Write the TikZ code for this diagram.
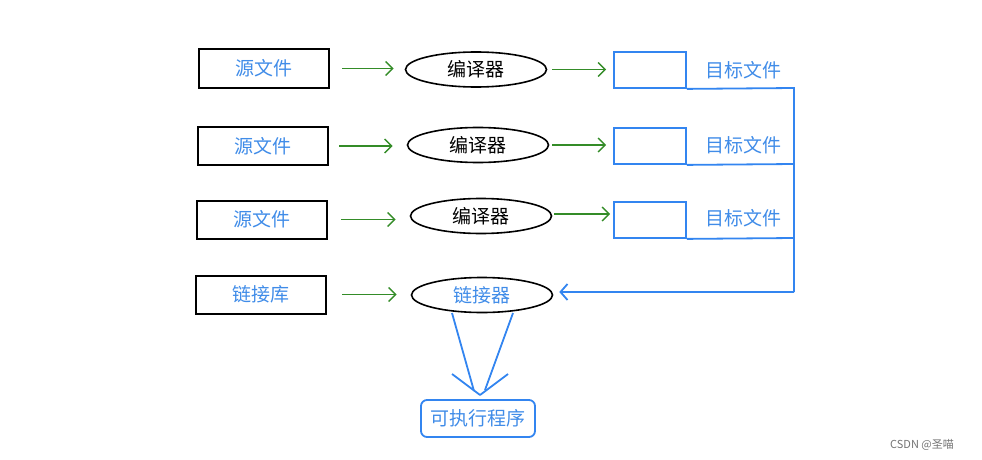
\documentclass[tikz,border=0pt]{standalone}
\usepackage{fontspec}
\setmainfont{Noto Sans CJK SC}
\usetikzlibrary{shapes.geometric,arrows.meta}
\definecolor{bblue}{RGB}{51,133,240}
\definecolor{tblue}{RGB}{64,140,232}
\definecolor{ggreen}{RGB}{52,140,40}
\tikzset{
  srcbox/.style={draw=black,line width=2pt,minimum width=130pt,minimum height=38pt,inner sep=0pt,text=tblue,font=\fontsize{19}{21}\selectfont},
  tgtbox/.style={draw=bblue,line width=1.8pt,minimum width=72pt,minimum height=36pt,inner sep=0pt},
  procell/.style={ellipse,draw=black,line width=1.6pt,minimum width=141pt,minimum height=35pt,inner sep=0pt,font=\fontsize{19}{21}\selectfont},
  tlabel/.style={text=tblue,font=\fontsize{19}{21}\selectfont},
  garrow/.style={draw=ggreen,line width=1.4pt,-{Straight Barb[length=7pt,width=14pt,line width=1.4pt]}},
  bline/.style={draw=bblue,line width=1.8pt},
  barrow/.style={bline,-{Straight Barb[length=7pt,width=16pt,line width=1.8pt]}},
  exebox/.style={draw=bblue,line width=1.8pt,rounded corners=6pt,minimum width=114pt,minimum height=37pt,inner sep=0pt,text=tblue,font=\fontsize{19}{21}\selectfont},
}
\begin{document}
\begin{tikzpicture}[x=1pt,y=-1pt]
\useasboundingbox (0,0) rectangle (982,460);
% source boxes
\node[srcbox] (s1) at (264,68.5) {源文件};
\node[srcbox] (s2) at (263,146) {源文件};
\node[srcbox] (s3) at (262,219.5) {源文件};
\node[srcbox] (s4) at (261,294.5) {链接库};
% ellipses
\node[procell] (e1) at (476,69.5) {编译器};
\node[procell] (e2) at (478,145) {编译器};
\node[procell] (e3) at (481,216) {编译器};
\node[procell,text=tblue] (lk) at (482,295) {链接器};
% target boxes
\node[tgtbox] (t1) at (650,70) {};
\node[tgtbox] (t2) at (650,146) {};
\node[tgtbox] (t3) at (650,220) {};
\node[tlabel] (l1) at (743,70) {目标文件};
\node[tlabel] (l2) at (743,145) {目标文件};
\node[tlabel] (l3) at (743,218) {目标文件};
% exe
\node[exebox] (exe) at (478,418.5) {可执行程序};
% green arrows
\draw[garrow,shorten <=12pt,shorten >=11pt] (s1.east) -- (s1.east -| e1.west);
\draw[garrow,shorten <=10pt,shorten >=14pt] (s2.east) -- (s2.east -| e2.west);
\draw[garrow,shorten <=13pt,shorten >=14pt] (s3.east) -- (s3.east -| e3.west);
\draw[garrow,shorten <=15pt,shorten >=14pt] (s4.east) -- (s4.east -| lk.west);
\draw[garrow,shorten <=5pt,shorten >=7pt] (e1.east) -- (e1.east -| t1.west);
\draw[garrow,shorten <=3pt,shorten >=7pt] (e2.east) -- (e2.east -| t2.west);
\draw[garrow,shorten <=2pt,shorten >=3pt] ([yshift=2pt]e3.east) -- ([yshift=2pt]e3.east -| t3.west);
% bus
\coordinate (b1) at (794,88);
\coordinate (b2) at (794,164);
\coordinate (b3) at (794,238);
\coordinate (bb) at (794,292);
\draw[bline] (t1.south east) -- (b1) -- (bb);
\draw[bline] (t2.south east) -- (b2);
\draw[bline] (t3.south east) -- (b3);
\draw[barrow] (bb) -- ([xshift=6pt]lk.east |- bb);
% linker to exe
\coordinate (la) at (452,313);
\coordinate (lb) at (513,313);
\coordinate (lae) at (474,391);
\coordinate (lbe) at (485,390);
\coordinate (tip) at (480,395);
\coordinate (hl) at (452,374);
\coordinate (hr) at (508,374);
\draw[bline] (la) -- (lae);
\draw[bline] (lb) -- (lbe);
\draw[bline,line join=round] (hl) -- (tip) -- (hr);
% watermark
\node[text=black!55,font=\fontsize{11}{12}\selectfont] (wm) at (922,445) {CSDN @圣喵};
\end{tikzpicture}
\end{document}
